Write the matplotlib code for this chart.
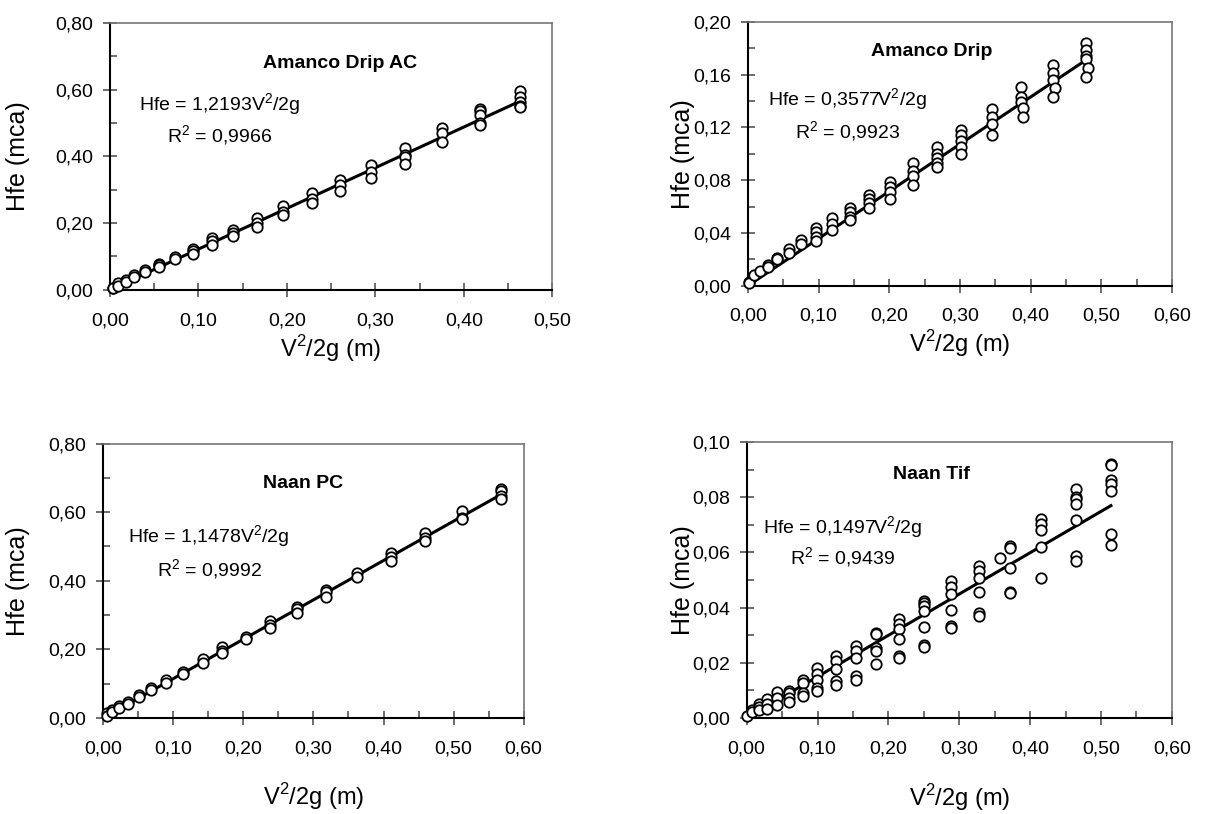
import numpy as np
import matplotlib
matplotlib.use('Agg')
from matplotlib import pyplot as plt
from matplotlib.ticker import FuncFormatter, MultipleLocator

plt.rcParams['font.family'] = ['Liberation Sans', 'DejaVu Sans']
plt.rcParams['mathtext.fontset'] = 'custom'
plt.rcParams['mathtext.rm'] = 'Liberation Sans'

# Amanco Drip AC
x1 = [0.003, 0.003, 0.009, 0.009, 0.018, 0.018, 0.027, 0.027, 0.040, 0.040,
      0.055, 0.055, 0.055, 0.073, 0.073, 0.094, 0.094, 0.094, 0.115, 0.115, 0.115,
      0.139, 0.139, 0.139, 0.166, 0.166, 0.166, 0.196, 0.196, 0.196,
      0.228, 0.228, 0.228, 0.260, 0.260, 0.260, 0.295, 0.295, 0.295,
      0.334, 0.334, 0.334, 0.334, 0.375, 0.375, 0.375,
      0.418, 0.418, 0.418, 0.418, 0.418, 0.463, 0.463, 0.463, 0.463, 0.463]
y1 = [0.006, 0.004, 0.020, 0.012, 0.030, 0.022, 0.044, 0.038, 0.060, 0.053,
      0.078, 0.073, 0.067, 0.097, 0.092, 0.122, 0.115, 0.108, 0.155, 0.145, 0.135,
      0.180, 0.170, 0.160, 0.214, 0.199, 0.188, 0.251, 0.234, 0.224,
      0.289, 0.271, 0.259, 0.329, 0.314, 0.297, 0.374, 0.354, 0.334,
      0.424, 0.404, 0.397, 0.376, 0.484, 0.471, 0.442,
      0.541, 0.536, 0.524, 0.499, 0.494, 0.597, 0.578, 0.563, 0.550, 0.547]

# Amanco Drip
x2 = [0.002, 0.002, 0.009, 0.017, 0.028, 0.028, 0.041, 0.041, 0.058, 0.058,
      0.075, 0.075, 0.097, 0.097, 0.097, 0.097, 0.119, 0.119, 0.119,
      0.144, 0.144, 0.144, 0.144, 0.171, 0.171, 0.171, 0.171,
      0.201, 0.201, 0.201, 0.201, 0.233, 0.233, 0.233, 0.233,
      0.267, 0.267, 0.267, 0.267, 0.267, 0.301, 0.301, 0.301, 0.301, 0.301,
      0.346, 0.346, 0.346, 0.346, 0.387, 0.387, 0.387, 0.389, 0.389,
      0.432, 0.432, 0.432, 0.434, 0.432,
      0.479, 0.479, 0.479, 0.479, 0.481, 0.479]
y2 = [0.003, 0.002, 0.008, 0.011, 0.016, 0.014, 0.021, 0.020, 0.028, 0.025,
      0.035, 0.032, 0.044, 0.041, 0.037, 0.034, 0.051, 0.047, 0.042,
      0.059, 0.056, 0.052, 0.050, 0.069, 0.066, 0.063, 0.059,
      0.079, 0.075, 0.071, 0.066, 0.093, 0.087, 0.083, 0.076,
      0.105, 0.100, 0.097, 0.093, 0.090, 0.118, 0.114, 0.110, 0.105, 0.100,
      0.134, 0.128, 0.123, 0.114, 0.151, 0.143, 0.139, 0.135, 0.128,
      0.167, 0.161, 0.156, 0.150, 0.143,
      0.184, 0.179, 0.174, 0.172, 0.165, 0.158]

# Naan PC
x3 = [0.005, 0.005, 0.012, 0.012, 0.023, 0.023, 0.035, 0.035, 0.051, 0.051,
      0.068, 0.068, 0.090, 0.090, 0.114, 0.114, 0.142, 0.142,
      0.170, 0.170, 0.170, 0.204, 0.204, 0.238, 0.238, 0.238,
      0.277, 0.277, 0.277, 0.318, 0.318, 0.318, 0.362, 0.362,
      0.410, 0.410, 0.410, 0.459, 0.459, 0.459, 0.512, 0.512, 0.512,
      0.568, 0.568, 0.568, 0.568]
y3 = [0.013, 0.005, 0.022, 0.018, 0.034, 0.030, 0.047, 0.042, 0.066, 0.061,
      0.086, 0.081, 0.112, 0.102, 0.135, 0.127, 0.172, 0.161,
      0.206, 0.196, 0.190, 0.237, 0.229, 0.284, 0.271, 0.261,
      0.325, 0.317, 0.307, 0.374, 0.366, 0.354, 0.422, 0.411,
      0.481, 0.469, 0.457, 0.540, 0.525, 0.515, 0.603, 0.583, 0.579,
      0.668, 0.661, 0.646, 0.639]

# Naan Tif
x4 = [0.001, 0.007, 0.007, 0.018, 0.018, 0.018, 0.029, 0.029, 0.029,
      0.043, 0.043, 0.043, 0.060, 0.060, 0.060, 0.060,
      0.080, 0.080, 0.080, 0.080, 0.099, 0.099, 0.099, 0.099, 0.099,
      0.126, 0.126, 0.126, 0.126, 0.126, 0.154, 0.154, 0.154, 0.154, 0.154,
      0.183, 0.183, 0.183, 0.183, 0.183, 0.215, 0.215, 0.215, 0.215, 0.215, 0.215,
      0.250, 0.250, 0.250, 0.250, 0.250, 0.250, 0.250,
      0.288, 0.288, 0.288, 0.288, 0.288, 0.288,
      0.328, 0.328, 0.328, 0.328, 0.328, 0.328, 0.358,
      0.371, 0.371, 0.371, 0.371, 0.371,
      0.415, 0.415, 0.415, 0.415, 0.415,
      0.464, 0.464, 0.464, 0.464, 0.464, 0.464, 0.464,
      0.514, 0.514, 0.514, 0.514, 0.514, 0.514, 0.514]
y4 = [0.0006, 0.0030, 0.0022, 0.0051, 0.0039, 0.0027, 0.0070, 0.0051, 0.0034,
      0.0095, 0.0073, 0.0046, 0.0099, 0.0091, 0.0073, 0.0057,
      0.0136, 0.0127, 0.0091, 0.0081, 0.0182, 0.0158, 0.0136, 0.0109, 0.0099,
      0.0224, 0.0206, 0.0176, 0.0133, 0.0121, 0.0261, 0.0242, 0.0218, 0.0152, 0.0139,
      0.0309, 0.0303, 0.0255, 0.0242, 0.0194, 0.0358, 0.0339, 0.0321, 0.0285, 0.0224, 0.0218,
      0.0424, 0.0415, 0.0406, 0.0388, 0.0331, 0.0264, 0.0258,
      0.0495, 0.0476, 0.0448, 0.0392, 0.0333, 0.0327,
      0.0552, 0.0531, 0.0507, 0.0458, 0.0382, 0.0370, 0.0578,
      0.0624, 0.0616, 0.0542, 0.0455, 0.0451,
      0.0721, 0.0703, 0.0682, 0.0621, 0.0507,
      0.0830, 0.0802, 0.0794, 0.0776, 0.0718, 0.0588, 0.0567,
      0.0921, 0.0915, 0.0861, 0.0848, 0.0822, 0.0667, 0.0628]

titles = ['Amanco Drip AC', 'Amanco Drip', 'Naan PC', 'Naan Tif']
slopes = [1.2193, 0.3577, 1.1478, 0.1497]
r2 = ['0,9966', '0,9923', '0,9992', '0,9439']
xmax = [0.5, 0.6, 0.6, 0.6]
ymax = [0.8, 0.2, 0.8, 0.1]
ystep = [0.2, 0.04, 0.2, 0.02]
xs = [x1, x2, x3, x4]
ys = [y1, y2, y3, y4]

# axes boxes in figure fraction
boxes = [
    [0.090, 0.644, 0.362, 0.328],
    [0.612, 0.649, 0.347, 0.324],
    [0.0845, 0.118, 0.344, 0.337],
    [0.611, 0.118, 0.348, 0.339],
]
title_pos = [(0.52, 0.848), (0.434, 0.888), (0.476, 0.855), (0.435, 0.882)]
eq_pos = [(0.249, 0.693, 0.577), (0.235, 0.705, 0.583),
          (0.252, 0.660, 0.540), (0.225, 0.688, 0.580)]
ylab_x = [-0.181, -0.125, -0.174, -0.122]
xlab_y = [-0.161, -0.159, -0.232, -0.232]


def fmt(v, pos):
    return '{:.2f}'.format(v).replace('.', ',')


fig = plt.figure(figsize=(12.22, 8.14), dpi=100)

for i in range(4):
    ax = fig.add_axes(boxes[i])
    x = np.array(xs[i])
    y = np.array(ys[i])
    xl = np.array([0, x.max()])
    ax.plot(xl, slopes[i] * xl, color='black', lw=2.2, zorder=2)
    ax.plot(x, y, 'o', ms=7.5, mfc='white', mec='black', mew=1.3, zorder=3,
            clip_on=False)
    ax.set_xlim(0, xmax[i])
    ax.set_ylim(0, ymax[i])
    ax.xaxis.set_major_locator(MultipleLocator(0.1))
    ax.xaxis.set_minor_locator(MultipleLocator(0.05))
    ax.yaxis.set_major_locator(MultipleLocator(ystep[i]))
    ax.yaxis.set_minor_locator(MultipleLocator(ystep[i] / 2))
    ax.xaxis.set_major_formatter(FuncFormatter(fmt))
    ax.yaxis.set_major_formatter(FuncFormatter(fmt))
    ax.tick_params(which='major', direction='inout', length=10, width=1.2,
                   color='#555555', labelsize=14)
    ax.tick_params(which='minor', direction='in', length=5, width=1.2,
                   color='#555555')
    ax.tick_params(axis='x', which='major', pad=11)
    ax.tick_params(axis='y', which='major', pad=7)
    ax.tick_params(top=False, right=False, which='both')
    for s in ['top', 'right']:
        ax.spines[s].set_color('#777777')
        ax.spines[s].set_linewidth(1.2)
    for s in ['bottom', 'left']:
        ax.spines[s].set_color('black')
        ax.spines[s].set_linewidth(1.5)
    ax.set_ylabel('Hfe (mca)', fontsize=18)
    ax.set_xlabel('V$^2$/2g (m)', fontsize=17)
    ax.yaxis.set_label_coords(ylab_x[i], 0.5)
    ax.xaxis.set_label_coords(0.5, xlab_y[i])
    ax.text(title_pos[i][0], title_pos[i][1], titles[i], transform=ax.transAxes,
            ha='center', va='center', fontsize=14, fontweight='bold')
    ex, ey1, ey2 = eq_pos[i]
    eq = 'Hfe = ' + '{:.4f}'.format(slopes[i]).replace('.', ',') + 'V$^2$/2g'
    ax.text(ex, ey1, eq, transform=ax.transAxes, ha='center', va='center',
            fontsize=14)
    ax.text(ex, ey2, 'R$^2$ = ' + r2[i], transform=ax.transAxes, ha='center',
            va='center', fontsize=14)

plt.savefig('out.png', dpi=100)
